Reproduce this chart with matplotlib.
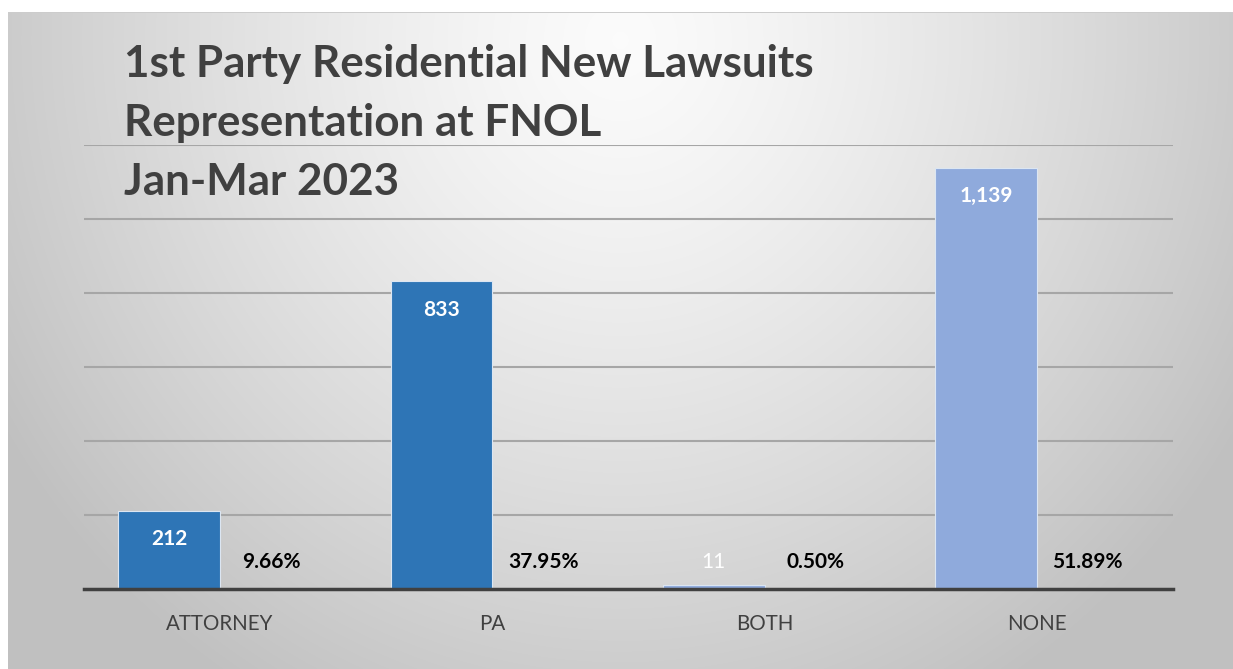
import numpy as np
import matplotlib as mpl
mpl.use('AGG')
import matplotlib.pyplot as plt

mpl.rc('font', **{'family': ['Lato', 'DejaVu Sans'], 'size': 11})

categories = ['ATTORNEY', 'PA', 'BOTH', 'NONE']
counts = [212, 833, 11, 1139]
count_labels = ['212', '833', '11', '1,139']
percents = [9.66, 37.95, 0.50, 51.89]
bar_colors = ['#2E75B6', '#2E75B6', '#8FAADC', '#8FAADC']
title_lines = ['1st Party Residential New Lawsuits', 'Representation at FNOL', 'Jan-Mar 2023']

W, H = 1233, 669
fig = plt.figure(figsize=(W / 100, H / 100), dpi=100)
fig.patch.set_facecolor('white')

# background: radial grey gradient, like the Excel chart area
bg = fig.add_axes([0, 0, 1, 1], zorder=-5)
yy, xx = np.mgrid[0:H, 0:W]
d = np.sqrt(((xx - 620) / 720.0) ** 2 + ((yy - 40) / 760.0) ** 2)
d = np.clip(d, 0, 1)
shade = 0.985 - 0.23 * d ** 1.3
img = np.dstack([shade, shade, shade])
img[:12, :, :] = 1.0
img[:, :8, :] = 1.0
img[12, 8:, :] = 0.80
bg.imshow(img, aspect='auto', extent=(0, W, H, 0), interpolation='bilinear')
bg.set_xlim(0, W)
bg.set_ylim(H, 0)
bg.axis('off')

ax = fig.add_axes([84 / W, 80 / H, (1173 - 84) / W, (589 - 145) / H])
ax.set_facecolor('none')

x = np.arange(len(categories))
bw = 0.374
ax.bar(x - bw / 2, counts, bw, color=bar_colors, edgecolor='#DCE6F2', linewidth=0.8, zorder=3)
ax.bar(x + bw / 2, [p / 100 for p in percents], bw, color='#ED7D31', linewidth=0, zorder=3)

for i, v in enumerate(counts):
    ly = max(v - 78, 73)
    ax.text(x[i] - bw / 2, ly, count_labels[i], ha='center', va='center', color='white',
            fontsize=15, fontweight='normal' if v < 50 else 'bold', zorder=4)
for i, p in enumerate(percents):
    ax.text(x[i] + bw / 2, 73, '%.2f%%' % p, ha='center', va='center', color='black',
            fontsize=15, fontweight='bold', zorder=4)

ax.set_xlim(-0.5, 3.5)
ax.set_ylim(0, 1200)
ax.set_yticks(np.arange(200, 1201, 200))
ax.yaxis.grid(True, color='#A6A6A6', linewidth=1.5, zorder=0)
ax.tick_params(axis='y', left=False, labelleft=False)
ax.set_xticks(x)
ax.set_xticklabels(categories, color='#404040', fontsize=14.8)
ax.tick_params(axis='x', length=0, pad=18)
for s in ['top', 'right', 'left']:
    ax.spines[s].set_visible(False)
ax.spines['bottom'].set_color('#404040')
ax.spines['bottom'].set_linewidth(2.5)
ax.spines['bottom'].set_zorder(5)

for k, line in enumerate(title_lines):
    fig.text(124 / W, 1 - (64 + 59 * k) / H, line, ha='left', va='center',
             fontsize=31.7, fontweight='bold', color='#404040')

plt.savefig('out.png', dpi=100)
